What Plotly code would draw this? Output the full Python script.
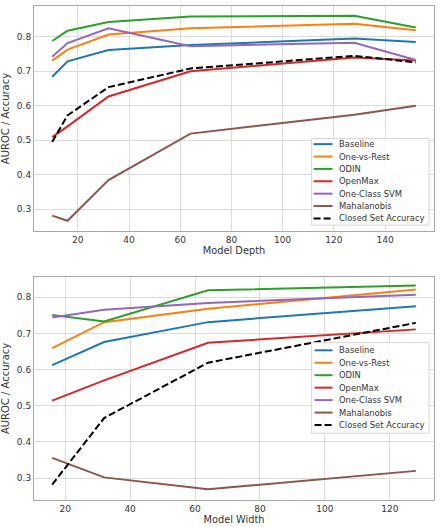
import plotly.graph_objects as go

# ---- data ----
depth = [10, 16, 32, 64, 128, 152]
width = [16, 32, 64, 128]
series_names = ["Baseline", "One-vs-Rest", "ODIN", "OpenMax", "One-Class SVM", "Mahalanobis", "Closed Set Accuracy"]
colors = ["#1f77b4", "#ff7f0e", "#2ca02c", "#d62728", "#9467bd", "#8c564b", "black"]

depth_baseline = [0.684, 0.729, 0.762, 0.776, 0.795, 0.785]
depth_ovr = [0.731, 0.763, 0.807, 0.825, 0.838, 0.819]
depth_odin = [0.788, 0.818, 0.843, 0.859, 0.861, 0.827]
depth_openmax = [0.509, 0.540, 0.627, 0.700, 0.740, 0.731]
depth_ocsvm = [0.742, 0.782, 0.825, 0.773, 0.783, 0.733]
depth_maha = [0.281, 0.266, 0.384, 0.519, 0.574, 0.600]
depth_closed = [0.495, 0.572, 0.654, 0.708, 0.745, 0.726]

width_baseline = [0.612, 0.676, 0.731, 0.775]
width_ovr = [0.659, 0.731, 0.768, 0.821]
width_odin = [0.751, 0.733, 0.819, 0.832]
width_openmax = [0.514, 0.570, 0.674, 0.711]
width_ocsvm = [0.744, 0.765, 0.784, 0.807]
width_maha = [0.356, 0.302, 0.269, 0.320]
width_closed = [0.282, 0.466, 0.619, 0.729]

depth_series = [depth_baseline, depth_ovr, depth_odin, depth_openmax, depth_ocsvm, depth_maha, depth_closed]
width_series = [width_baseline, width_ovr, width_odin, width_openmax, width_ocsvm, width_maha, width_closed]

y_ticks = [0.3, 0.4, 0.5, 0.6, 0.7, 0.8]
depth_ticks = [20, 40, 60, 80, 100, 120, 140]
width_ticks = [20, 40, 60, 80, 100, 120]

FONT = "DejaVu Sans"
TXT = "#333333"
DASH = "7px,3px"

W, H = 441, 527
ML, MR, MT, MB = 32, 7, 5, 26
PLOT_H = H - MT - MB
# axes pixel boxes (top, bottom) in page pixels
AX_L, AX_R = 32, 434
TOP_AX = (5, 231)
BOT_AX = (277, 501)


def dom(ax):
    t, b = ax
    return [(H - MB - b) / PLOT_H, (H - MB - t) / PLOT_H]


fig = go.Figure()

for i, name in enumerate(series_names):
    dash = DASH if name == "Closed Set Accuracy" else "solid"
    fig.add_trace(go.Scatter(x=depth, y=depth_series[i], mode="lines", name=name,
                             line=dict(color=colors[i], width=2, dash=dash),
                             xaxis="x", yaxis="y", showlegend=False))
for i, name in enumerate(series_names):
    dash = DASH if name == "Closed Set Accuracy" else "solid"
    fig.add_trace(go.Scatter(x=width, y=width_series[i], mode="lines", name=name,
                             line=dict(color=colors[i], width=2, dash=dash),
                             xaxis="x2", yaxis="y2", showlegend=False))

axis_common = dict(showgrid=True, gridcolor="#dcdcdc", gridwidth=1, zeroline=False,
                   showline=True, mirror=True, linecolor="#a8a8a8", linewidth=1,
                   ticks="", tickfont=dict(family=FONT, size=9, color=TXT))
title_font = dict(family=FONT, size=9.8, color=TXT)

fig.update_layout(
    width=W, height=H,
    margin=dict(l=ML, r=MR, t=MT, b=MB),
    paper_bgcolor="white", plot_bgcolor="white",
    font=dict(family=FONT, size=10, color=TXT),
    showlegend=False,
    xaxis=dict(domain=[0, 1], anchor="y", range=[2.9, 159.1], tickvals=depth_ticks,
               title=dict(text="Model Depth", font=title_font, standoff=1), **axis_common),
    yaxis=dict(domain=dom(TOP_AX), anchor="x", range=[0.236, 0.8896], tickvals=y_ticks, tickformat=".1f",
               title=dict(text="AUROC / Accuracy", font=dict(family=FONT, size=10, color=TXT), standoff=5),
               **axis_common),
    xaxis2=dict(domain=[0, 1], anchor="y2", range=[10.4, 133.6], tickvals=width_ticks,
                title=dict(text="Model Width", font=title_font, standoff=1), **axis_common),
    yaxis2=dict(domain=dom(BOT_AX), anchor="x2", range=[0.2395, 0.856], tickvals=y_ticks, tickformat=".1f",
                title=dict(text="AUROC / Accuracy", font=dict(family=FONT, size=10, color=TXT), standoff=5),
                **axis_common),
)


# ---- matplotlib-like legends drawn as shapes + annotations ----
def add_legend(xr, yr, ax, box, first_y, step, handle_x, text_x):
    t, b = ax

    def fx(px):
        return (px - AX_L) / (AX_R - AX_L)

    def fy(py):
        return (b - py) / (b - t)

    bx0, by0, bx1, by1 = box
    fig.add_shape(type="rect", xref=xr, yref=yr, x0=fx(bx0), x1=fx(bx1), y0=fy(by1), y1=fy(by0),
                  fillcolor="rgba(255,255,255,0.85)", line=dict(color="#d6d6d6", width=1), layer="above")
    for i, name in enumerate(series_names):
        py = first_y + i * step
        dash = DASH if name == "Closed Set Accuracy" else "solid"
        fig.add_shape(type="line", xref=xr, yref=yr, x0=fx(handle_x[0]), x1=fx(handle_x[1]),
                      y0=fy(py), y1=fy(py), line=dict(color=colors[i], width=2, dash=dash), layer="above")
        fig.add_annotation(xref=xr, yref=yr, x=fx(text_x), y=fy(py), text=name, showarrow=False,
                           xanchor="left", yanchor="middle", font=dict(family=FONT, size=8.4, color=TXT))


add_legend("x domain", "y domain", TOP_AX, (311, 138, 429, 225), 143.7, 12.43, (313, 332), 337)
add_legend("x2 domain", "y2 domain", BOT_AX, (311, 343, 429, 434), 350.7, 12.5, (314, 332), 337)

fig.write_html("out.html")
